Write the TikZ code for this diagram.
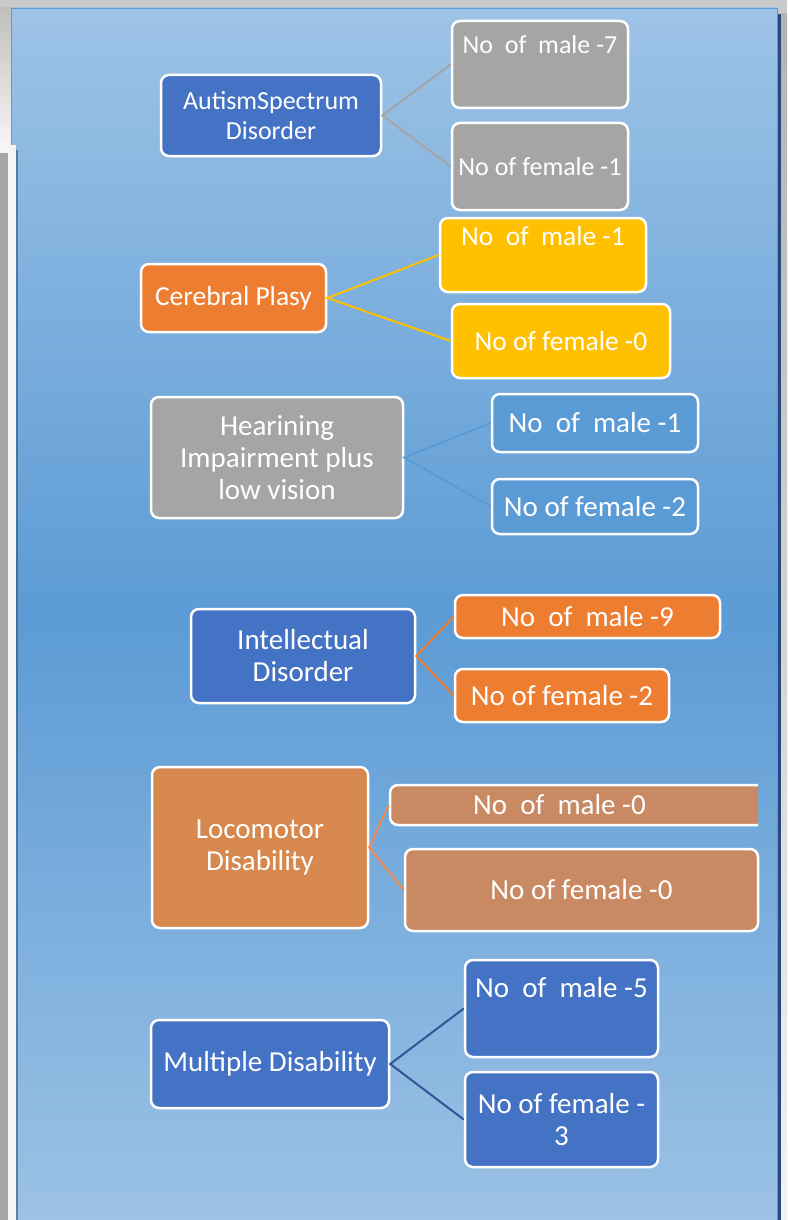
\documentclass[tikz,border=0pt]{standalone}
\usepackage{fontspec}
\setmainfont{Carlito}

\definecolor{accblue}{HTML}{4472C4}
\definecolor{accorange}{HTML}{ED7D31}
\definecolor{accgray}{HTML}{A5A5A5}
\definecolor{accgold}{HTML}{FFC000}
\definecolor{acclight}{HTML}{5B9BD5}
\definecolor{accnavy}{HTML}{2F5597}
\definecolor{locoparent}{HTML}{D6884F}
\definecolor{locochild}{HTML}{C98A63}
\definecolor{locoline}{HTML}{F08A50}
\definecolor{paneltop}{HTML}{9DC3E6}
\definecolor{panelmid}{HTML}{5C9BD5}
\definecolor{panelbot}{HTML}{9CC2E5}

\tikzset{
	catbox/.style={draw=white, line width=2.5pt, rounded corners=8pt, text=white,
		align=center, inner sep=2pt, font=\fontsize{29}{32}\selectfont},
	link/.style={line width=2pt},
}

\begin{document}
\begin{tikzpicture}[x=1pt, y=-1pt]
		\def\w{787}  % Width of the picture (pixels)
		\def\h{1220} % Height of the picture (pixels)
		\useasboundingbox (0,0) rectangle (\w,\h);
		
		% Window behind the panel
		\fill[gray!42] (0,0) rectangle (\w,\h);
		\shade[top color=gray!50, bottom color=gray!8] (0,8) rectangle (11,145);
		\shade[top color=gray!60, bottom color=gray!10] (781,14) rectangle (\w,\h);
		
		% Blue panel
		\shade[top color=paneltop, bottom color=panelbot, middle color=panelmid]
		(11,8) rectangle (778,\h);
		\draw[acclight, line width=1.5pt] (11.5,\h) -- (11.5,8.5) -- (777.5,8.5) -- (777.5,\h);
		\fill[accnavy!85!black] (778,14) rectangle (781,\h);
		
		% Left window in front
		\fill[gray!8] (0,145) rectangle (16,\h);
		\fill[gray!70] (0,153) rectangle (8,\h);
		\fill[black!45!acclight, opacity=0.6] (16,150) rectangle (18,\h);
		
		% Autism
		\node[catbox, fill=accblue, minimum width=220, minimum height=81,
		font=\fontsize{26}{30}\selectfont] (asd) at (271,115.5) {AutismSpectrum\\Disorder};
		\node[catbox, fill=accgray, minimum width=176, minimum height=87,
		font=\fontsize{26}{31}\selectfont] (asdm) at (540,64.5) {No\ \ of\ \ male -7\\\strut};
		\node[catbox, fill=accgray, minimum width=176, minimum height=87,
		font=\fontsize{26}{31}\selectfont] (asdf) at (540,166.5) {No of female -1};
		\draw[link, accgray] (asdm.west) -- (asd.east) -- (asdf.west);
		
		% Cerebral palsy
		\node[catbox, fill=accorange, minimum width=185, minimum height=68,
		font=\fontsize{27.5}{32}\selectfont] (cp) at (233.5,298) {Cerebral Plasy};
		\node[catbox, fill=accgold, minimum width=206, minimum height=74,
		font=\fontsize{27.5}{30}\selectfont] (cpm) at (543,255) {No\ \ of\ \ male -1\\\strut};
		\node[catbox, fill=accgold, minimum width=218, minimum height=74,
		font=\fontsize{27.5}{32}\selectfont] (cpf) at (561,341) {No of female -0};
		\draw[link, accgold] (cpm.west) -- (cp.east) -- (cpf.west);
		
		% Hearing
		\node[catbox, fill=accgray, minimum width=252, minimum height=121] (hi) at (277,457.5)
		{Hearining\\Impairment plus\\low vision};
		\node[catbox, fill=acclight, minimum width=206, minimum height=58] (him) at (595,423)
		{No\ \ of\ \ male -1};
		\node[catbox, fill=acclight, minimum width=206, minimum height=55] (hif) at (595,506.5)
		{No of female -2};
		\draw[link, acclight] (him.west) -- (hi.east) -- (hif.west);
		
		% Intellectual
		\node[catbox, fill=accblue, minimum width=224, minimum height=94] (id) at (303,656)
		{Intellectual\\Disorder};
		\node[catbox, fill=accorange, minimum width=265, minimum height=43] (idm) at (587.5,616.5)
		{No\ \ of\ \ male -9};
		\node[catbox, fill=accorange, minimum width=214, minimum height=53] (idf) at (562,695.5)
		{No of female -2};
		\draw[link, accorange] (idm.west) -- (id.east) -- (idf.west);
		
		% Locomotor
		\node[catbox, fill=locoparent, minimum width=216, minimum height=161] (ld) at (260,847.5)
		{Locomotor\\Disability};
		\begin{scope}
			\clip (0,0) rectangle (758,\h);
			\node[catbox, fill=locochild, minimum width=380, minimum height=40] (ldm) at (580,805)
			{No\ \ of\ \ male -0\hspace*{41pt}};
		\end{scope}
		\node[catbox, fill=locochild, minimum width=353, minimum height=82] (ldf) at (581.5,890)
		{No of female -0};
		\draw[link, locoline] (ldm.west) -- (ld.east) -- (ldf.west);
		
		% Multiple
		\node[catbox, fill=accblue, minimum width=238, minimum height=88] (md) at (270,1064)
		{Multiple Disability};
		\node[catbox, fill=accblue, minimum width=193, minimum height=97] (mdm) at (561.5,1008.5)
		{No\ \ of\ \ male -5\\\strut};
		\node[catbox, fill=accblue, minimum width=193, minimum height=95] (mdf) at (561.5,1119.5)
		{No of female -\\3};
		\draw[link, accnavy] (mdm.west) -- (md.east) -- (mdf.west);
	\end{tikzpicture}
\end{document}
